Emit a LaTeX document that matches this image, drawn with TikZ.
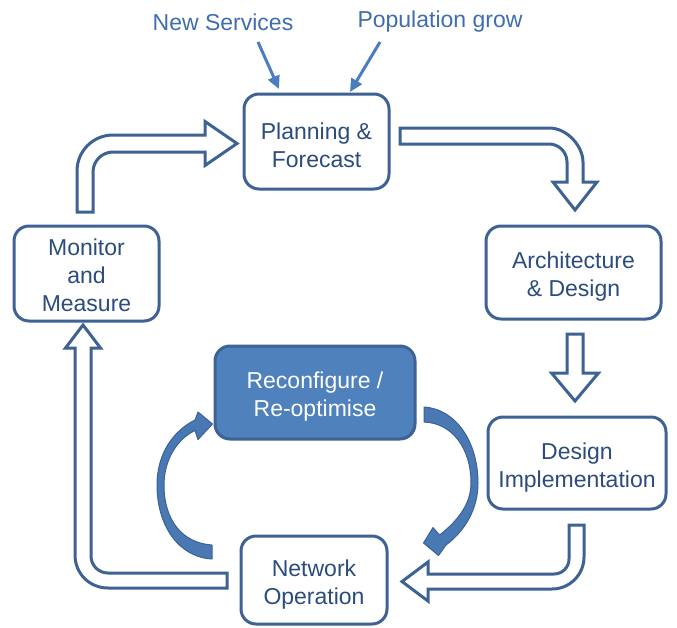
\documentclass[tikz,border=0pt]{standalone}
\usepackage{fontspec}
\setmainfont{Liberation Sans}
\usetikzlibrary{arrows.meta}
\definecolor{boxline}{HTML}{3D6293}
\definecolor{boxtext}{HTML}{2B4C7D}
\definecolor{labtext}{HTML}{3F6DAE}
\definecolor{labarrow}{HTML}{4A7DC0}
\definecolor{fillblue}{HTML}{4F81BD}
\definecolor{curvefill}{HTML}{4A78B3}
\definecolor{curveline}{HTML}{3A6396}
\newcommand\toppad{\rule{0pt}{25pt}}
\newcommand\smallpad{\rule{0pt}{20pt}}
\tikzset{
  stepbox/.style={draw=boxline, line width=3pt, rounded corners=15pt, fill=white,
    text=boxtext, align=center, inner sep=0pt,
    font=\fontsize{23}{28}\selectfont},
  hotbox/.style={stepbox, fill=fillblue, draw=boxline, text=white},
  blockarrow/.style={draw=boxline, line width=3pt, fill=white, line join=miter},
  curvearrow/.style={draw=curveline, line width=1pt, fill=curvefill, line join=round},
  labelnode/.style={text=labtext, font=\fontsize{23}{28}\selectfont, inner sep=0pt},
  labarrowline/.style={draw=labarrow, line width=3pt, -{Triangle[length=13pt,width=12pt]}}
}
\begin{document}
\begin{tikzpicture}[x=1pt,y=-1pt]
\useasboundingbox (0,0) rectangle (677,627);

% block arrows
% Monitor -> Planning
\path[blockarrow] (77,212) -- (77,171) .. controls (77,151.1) and (93.1,135) .. (113,135)
  -- (205,135) -- (205,121.5) -- (237,143.5) -- (205,165.5) -- (205,152)
  -- (113,152) .. controls (102,152) and (93,161) .. (93,172) -- (93,212) -- cycle;
% Planning -> Architecture
\path[blockarrow] (400,128) -- (549,128) .. controls (567.8,128) and (583,146.8) .. (583,162)
  -- (583,182) -- (597,182) -- (575,210) -- (553,182) -- (567,182) -- (567,162)
  .. controls (567,152.1) and (558.9,144) .. (549,144) -- (400,144) -- cycle;
% Architecture -> Design Implementation
\path[blockarrow] (567,334) -- (583,334) -- (583,373) -- (598.5,373) -- (575,401)
  -- (551.5,373) -- (567,373) -- cycle;
% Design Implementation -> Network Operation
\path[blockarrow] (569,525) -- (584,525) -- (584,557) .. controls (584,574.7) and (569.7,589) .. (552,589)
  -- (428,589) -- (428,601) -- (402,581.5) -- (428,562) -- (428,574) -- (554,574)
  .. controls (562.3,574) and (569,567.3) .. (569,559) -- cycle;
% Network Operation -> Monitor
\path[blockarrow] (227,573) -- (227,588) -- (108,588) .. controls (89.8,588) and (75,573.8) .. (75,555)
  -- (75,348) -- (65.5,348) -- (83,325) -- (100.5,348) -- (91,348) -- (91,556)
  .. controls (91,565.4) and (98.6,573) .. (108,573) -- cycle;

% curved arrows
\path[curvearrow] (212,559) .. controls (178,557) and (157,525) .. (157,485)
  .. controls (157,454) and (173,431) .. (195,420) -- (198,412) -- (212.5,424)
  -- (198,439.5) -- (195,430.5) .. controls (177,439) and (164,460) .. (164,485)
  .. controls (164,520) and (182,543) .. (212,545) -- cycle;
\path[curvearrow] (424,407) .. controls (456,409) and (478,442) .. (478,483)
  .. controls (478,508) and (466,530) .. (446,545) -- (438.5,555.5) -- (423.5,543)
  -- (433,527.5) -- (439.5,535) .. controls (459,520) and (471,503) .. (471,483)
  .. controls (471,448) and (452,423) .. (424,422) -- cycle;

% boxes
\node[stepbox, minimum width=145pt, minimum height=95pt] (plan) at (316.5,141.5) {\toppad Planning \&\\Forecast};
\node[stepbox, minimum width=175pt, minimum height=93pt] (arch) at (573.5,272.5) {\toppad Architecture\\\& Design};
\node[stepbox, minimum width=145pt, minimum height=95pt] (mon) at (86.5,273.5) {\smallpad Monitor\\and\\Measure};
\node[hotbox, minimum width=200pt, minimum height=93pt] (reconf) at (315,392.5) {\toppad Reconfigure /\\Re-optimise};
\node[stepbox, minimum width=178pt, minimum height=92pt] (impl) at (577,463) {\toppad Design\\Implementation};
\node[stepbox, minimum width=146pt, minimum height=88pt] (netop) at (314,580) {\toppad Network\\Operation};

% top labels
\node[labelnode] (newserv) at (223,22) {New Services};
\node[labelnode] (popgrow) at (440,22) {Population grow};
\coordinate (nsstart) at (258,42);
\coordinate (nsend) at (279,89);
\coordinate (pgstart) at (380,42);
\coordinate (pgend) at (350,92);
\draw[labarrowline] (nsstart) -- (nsend);
\draw[labarrowline] (pgstart) -- (pgend);
\end{tikzpicture}
\end{document}
